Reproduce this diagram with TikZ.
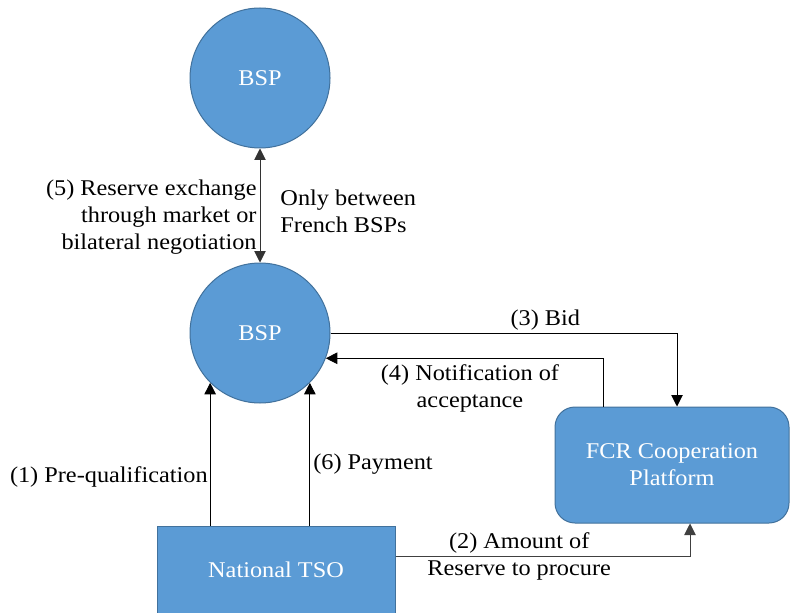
\documentclass[tikz,border=0pt]{standalone}
\usepackage{fontspec}
\setmainfont{Liberation Serif}[FakeStretch=1.08]
\usepackage{xcolor}
\usetikzlibrary{arrows.meta,positioning}
\definecolor{fcrBlue}{HTML}{5B9BD5}
\definecolor{fcrEdge}{HTML}{41719C}

\begin{document}
\begin{tikzpicture}[
  x=1pt, y=-1pt,
  font=\fontsize{22.5}{27}\selectfont,
  actor/.style={draw=fcrEdge, line width=1pt, fill=fcrBlue, text=white, align=center},
  bsp/.style={actor, circle, minimum size=140pt, inner sep=0pt},
  platform/.style={actor, rounded corners=20pt, minimum width=234pt, minimum height=116pt},
  tso/.style={actor, minimum width=238pt, minimum height=88pt},
  arrow/.style={-{Triangle[length=11.5pt,width=11.5pt]}, line width=.9pt, draw=black},
  both/.style={{Triangle[length=11.5pt,width=11.5pt]}-{Triangle[length=11.5pt,width=11.5pt]}, line width=.9pt, draw=black!80},
  note/.style={align=center, text=black, inner sep=2pt}
]
  \useasboundingbox (0,0) rectangle (791,612);

  \node[bsp] (bspTop) at (260,78) {BSP};
  \node[bsp] (bspMid) at (260,333) {BSP};
  \node[platform] (fcr) at (672,465) {FCR Cooperation\\Platform};
  \node[tso] (tso) at (276,570) {National TSO};

  \draw[both] (bspTop) -- node[note, left=1pt, pos=.6, align=right]{(5) Reserve exchange\\through market or\\bilateral negotiation}
    node[note, right=18pt, pos=.55, align=left]{Only between\\French BSPs} (bspMid);

  \draw[arrow] (bspMid.east) -| node[note, above, pos=.31]{(3) Bid} ([xshift=5pt]fcr.north);
  \draw[arrow] ([xshift=-69pt]fcr.north) |- node[note, below=4pt, pos=.74]{(4) Notification of\\acceptance} (bspMid.-21);

  \draw[arrow] (tso.north -| bspMid.225) -- node[note, left=0pt, pos=.34]{(1) Pre-qualification} (bspMid.225);
  \draw[arrow] (tso.north -| bspMid.315) -- node[note, right=1pt, pos=.43]{(6) Payment} (bspMid.315);

  \draw[arrow, draw=black!75] ([yshift=14pt]tso.east) -| node[note, pos=.21]{(2) Amount of\\Reserve to procure} ([xshift=18pt]fcr.south);
\end{tikzpicture}
\end{document}
